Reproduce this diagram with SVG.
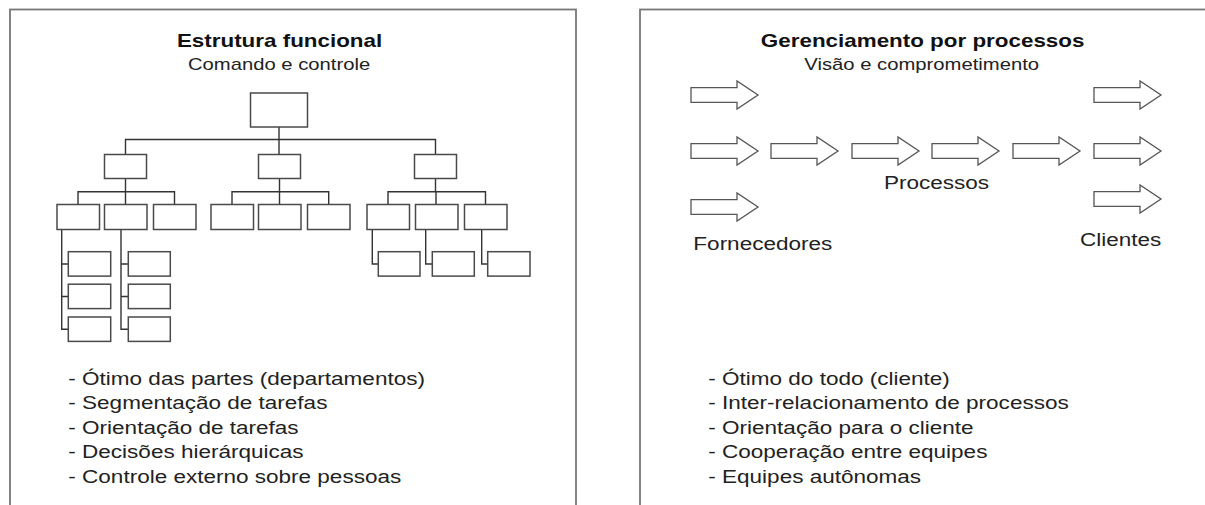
<svg xmlns="http://www.w3.org/2000/svg" xmlns:xlink="http://www.w3.org/1999/xlink" width="1205" height="505" viewBox="0 0 1205 505">
<style>
.panel{fill:#fff;stroke:#777;stroke-width:1.8}
.box{fill:#fff;stroke:#4a4a4a;stroke-width:1.5}
.con{fill:none;stroke:#333;stroke-width:1.4}
.arr{fill:#fff;stroke:#555;stroke-width:1.3;stroke-linejoin:miter}
text{font-family:"Liberation Sans",Arial,Helvetica,sans-serif;fill:#222}
.t{font-size:18.6px;font-weight:bold;fill:#111;text-anchor:middle}
.s{font-size:16.8px;text-anchor:middle}
.b{font-size:18.7px}
</style>
<defs>
<path id="arrow" d="M0,-7.3 H46 V-14 L67,0 L46,14 V7.3 H0 Z"/>
</defs>
<rect width="1205" height="505" fill="#fff"/>
<g id="panel-left"><rect class="panel" x="10" y="9.5" width="566" height="520"/></g>
<g id="panel-right"><rect class="panel" x="640" y="9.5" width="600" height="520"/></g>

<g id="connectors" class="con">
<path d="M279,127 V139.5 M125.5,154.5 V139.5 H435.5 V154.5 M279,139.5 V154.5"/>
<path d="M125.5,178.5 V191.7 M78,204.5 V191.7 H174.5 V204.5 M125.5,191.7 V204.5"/>
<path d="M279.5,178.5 V191.7 M232,204.5 V191.7 H328.7 V204.5 M279.5,191.7 V204.5"/>
<path d="M435.5,178.5 V191.7 M388,204.5 V191.7 H485.5 V204.5 M436,191.7 V204.5"/>
<path d="M61.7,229.5 V329.2 H68.3 M61.7,264 H68.3 M61.7,296.5 H68.3"/>
<path d="M121,229.5 V329.2 H128.3 M121,264 H128.3 M121,296.5 H128.3"/>
<path d="M372.3,229.5 V264 H378.3 M425.7,229.5 V264 H432.3 M481.7,229.5 V264 H487.7"/>
</g>

<g id="org-top"><rect class="box" x="250.5" y="93" width="57" height="34"/></g>
<g id="org-a"><rect class="box" x="104.5" y="154.5" width="42" height="24"/></g>
<g id="org-b"><rect class="box" x="258.5" y="154.5" width="42" height="24"/></g>
<g id="org-c"><rect class="box" x="414.5" y="154.5" width="42" height="24"/></g>
<g id="org-a1"><rect class="box" x="57" y="204.5" width="42.5" height="25"/></g>
<g id="org-a2"><rect class="box" x="104.5" y="204.5" width="42.5" height="25"/></g>
<g id="org-a3"><rect class="box" x="153.5" y="204.5" width="42.5" height="25"/></g>
<g id="org-b1"><rect class="box" x="211" y="204.5" width="42.5" height="25"/></g>
<g id="org-b2"><rect class="box" x="258.5" y="204.5" width="42.5" height="25"/></g>
<g id="org-b3"><rect class="box" x="307.5" y="204.5" width="42.5" height="25"/></g>
<g id="org-c1"><rect class="box" x="367" y="204.5" width="42.5" height="25"/></g>
<g id="org-c2"><rect class="box" x="415.5" y="204.5" width="42.5" height="25"/></g>
<g id="org-c3"><rect class="box" x="464.5" y="204.5" width="42.5" height="25"/></g>
<g id="org-a1-1"><rect class="box" x="68.3" y="251.7" width="42.4" height="24.4"/></g>
<g id="org-a1-2"><rect class="box" x="68.3" y="284.2" width="42.4" height="24.4"/></g>
<g id="org-a1-3"><rect class="box" x="68.3" y="317" width="42.4" height="24.4"/></g>
<g id="org-a2-1"><rect class="box" x="128.3" y="251.7" width="42" height="24.4"/></g>
<g id="org-a2-2"><rect class="box" x="128.3" y="284.2" width="42" height="24.4"/></g>
<g id="org-a2-3"><rect class="box" x="128.3" y="317" width="42" height="24.4"/></g>
<g id="org-c1-1"><rect class="box" x="378.3" y="251.7" width="41.7" height="24.4"/></g>
<g id="org-c2-1"><rect class="box" x="432.3" y="251.7" width="42" height="24.4"/></g>
<g id="org-c3-1"><rect class="box" x="487.7" y="251.7" width="42.3" height="24.4"/></g>

<g id="arrow-f1"><use class="arr" xlink:href="#arrow" href="#arrow" x="691" y="95"/></g>
<g id="arrow-f2"><use class="arr" xlink:href="#arrow" href="#arrow" x="691" y="151"/></g>
<g id="arrow-f3"><use class="arr" xlink:href="#arrow" href="#arrow" x="691" y="207"/></g>
<g id="arrow-p1"><use class="arr" xlink:href="#arrow" href="#arrow" x="771" y="151"/></g>
<g id="arrow-p2"><use class="arr" xlink:href="#arrow" href="#arrow" x="852" y="151"/></g>
<g id="arrow-p3"><use class="arr" xlink:href="#arrow" href="#arrow" x="932" y="151"/></g>
<g id="arrow-p4"><use class="arr" xlink:href="#arrow" href="#arrow" x="1013" y="151"/></g>
<g id="arrow-c1"><use class="arr" xlink:href="#arrow" href="#arrow" x="1094" y="95"/></g>
<g id="arrow-c2"><use class="arr" xlink:href="#arrow" href="#arrow" x="1094" y="151"/></g>
<g id="arrow-c3"><use class="arr" xlink:href="#arrow" href="#arrow" x="1094" y="199"/></g>

<g id="texts" transform="scale(1.205 1)">
<text class="t" x="232" y="47">Estrutura funcional</text>
<text class="s" x="231.6" y="70.5">Comando e controle</text>
<text class="t" x="765.7" y="47">Gerenciamento por processos</text>
<text class="s" x="764.9" y="70.5">Visão e comprometimento</text>
<text class="b" x="733.6" y="189">Processos</text>
<text class="b" x="575.4" y="250">Fornecedores</text>
<text class="b" x="896.3" y="246.5">Clientes</text>
<g id="list-left">
<text class="b" x="56.7" y="385">- Ótimo das partes (departamentos)</text>
<text class="b" x="56.7" y="409.5">- Segmentação de tarefas</text>
<text class="b" x="56.7" y="434">- Orientação de tarefas</text>
<text class="b" x="56.7" y="458.5">- Decisões hierárquicas</text>
<text class="b" x="56.7" y="483">- Controle externo sobre pessoas</text>
</g>
<g id="list-right">
<text class="b" x="587.8" y="385">- Ótimo do todo (cliente)</text>
<text class="b" x="587.8" y="409.5">- Inter-relacionamento de processos</text>
<text class="b" x="587.8" y="434">- Orientação para o cliente</text>
<text class="b" x="587.8" y="458.5">- Cooperação entre equipes</text>
<text class="b" x="587.8" y="483">- Equipes autônomas</text>
</g>
</g>
</svg>
